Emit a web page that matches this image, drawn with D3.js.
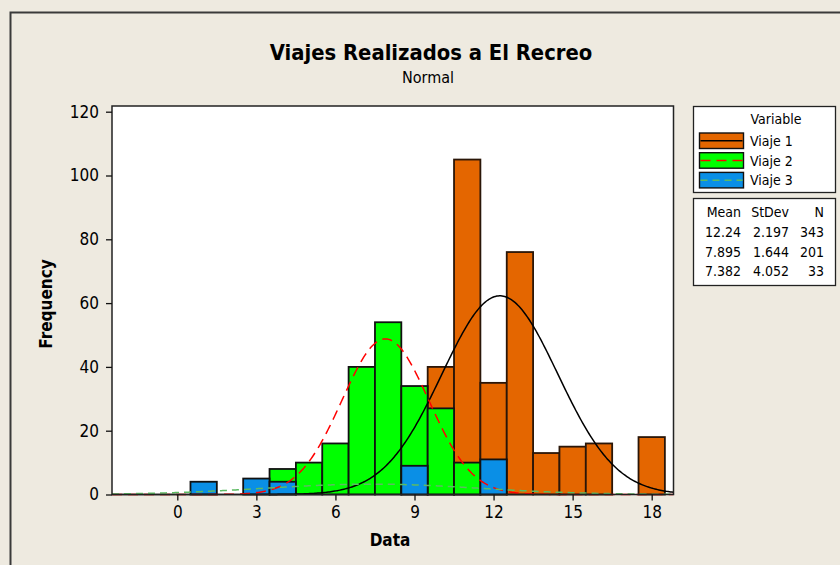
<!DOCTYPE html>
<html><head><meta charset="utf-8">
<script src="https://cdn.jsdelivr.net/npm/d3@7"></script>
<style>
body{margin:0;background:#EEEAE0;}
svg{display:block;font-family:'DejaVu Sans Condensed','DejaVu Sans',sans-serif;}
</style>
</head><body><svg id="c" width="840" height="565"></svg>
<script>
// ---- data ----
const binCenters = [1,2,3,4,5,6,7,8,9,10,11,12,13,14,15,16,17,18];
const viaje1 = [0,0,0,0,0,0,0,0,0,40,105,35,76,13,15,16,0,18];
const viaje2 = [0,0,0,8,10,16,40,54,34,27,10,0,0,0,0,0,0,0];
const viaje3 = [4,0,5,4,0,0,0,0,9,0,0,11,0,0,0,0,0,0];
const seriesNames = ["Viaje 1","Viaje 2","Viaje 3"];
const means = [12.24, 7.895, 7.382];
const stdevs = [2.197, 1.644, 4.052];
const counts = [343, 201, 33];
const meanLabels = ["12.24","7.895","7.382"];
const stdevLabels = ["2.197","1.644","4.052"];
const xTicks = [0,3,6,9,12,15,18];
const yTicks = [0,20,40,60,80,100,120];

const barColors = ["#E46600","#00FF00","#0A8FE6"];
const curveColors = ["#000000","#FF0000","#5DBB63"];
const curveDash = [null,"10,6","7,5"];

const svg = d3.select("#c");
const L=112, R=673.5, T=106, B=494.5;
const x = d3.scaleLinear().domain([0,18]).range([177.3,651.7]);
const xMin = x.invert(L), xMax = x.invert(R);
const y = d3.scaleLinear().domain([0,120]).range([B,111.7]);

// frame
svg.append("path").attr("d","M10.5,565 V12.5 H840").attr("fill","none").attr("stroke","#3a3a3a").attr("stroke-width",2);

// plot area
svg.append("rect").attr("x",L).attr("y",T).attr("width",R-L).attr("height",B-T).attr("fill","#fff");

const plot = svg.append("g");
const allSeries = [viaje1, viaje2, viaje3];
allSeries.forEach((vals,si)=>{
  const data = binCenters.map((c,i)=>({c, v:vals[i]})).filter(d=>d.v>0);
  plot.selectAll(null).data(data).enter().append("rect")
    .attr("x",d=>x(d.c-0.5)).attr("width",d=>x(d.c+0.5)-x(d.c-0.5))
    .attr("y",d=>y(d.v)).attr("height",d=>y(0)-y(d.v))
    .attr("fill",barColors[si]).attr("stroke",si===0?"#2a1608":"#111").attr("stroke-width",1.8);
});

// fitted normal curves
const xs = d3.range(xMin, xMax+0.001, 0.05);
const line = d3.line().x(d=>x(d[0])).y(d=>y(d[1]));
[0,1,2].forEach(si=>{
  const m=means[si], s=stdevs[si], n=counts[si];
  const pts = xs.map(v=>[v, n*Math.exp(-0.5*((v-m)/s)**2)/(s*Math.sqrt(2*Math.PI))]);
  svg.append("path").datum(pts).attr("d",line).attr("fill","none")
    .attr("stroke",curveColors[si]).attr("stroke-width",1.5)
    .attr("stroke-dasharray",curveDash[si]);
});

// plot border
svg.append("rect").attr("x",L).attr("y",T).attr("width",R-L).attr("height",B-T)
  .attr("fill","none").attr("stroke","#222").attr("stroke-width",1.5);

// axes
const xAxis = d3.axisBottom(x).tickValues(xTicks).tickSize(6).tickSizeOuter(0).tickPadding(5);
const gx = svg.append("g").attr("transform",`translate(0,${B})`).call(xAxis);
gx.select(".domain").remove();
gx.selectAll("line").attr("stroke","#111").attr("stroke-width",1.3);
gx.selectAll("text").attr("font-size",17).attr("fill","#000").attr("font-family","'DejaVu Sans Condensed','DejaVu Sans',sans-serif");

const yAxis = d3.axisLeft(y).tickValues(yTicks).tickSize(6).tickSizeOuter(0).tickPadding(7);
const gy = svg.append("g").attr("transform",`translate(${L},0)`).call(yAxis);
gy.select(".domain").remove();
gy.selectAll("line").attr("stroke","#111").attr("stroke-width",1.3);
gy.selectAll("text").attr("font-size",17).attr("fill","#000").attr("font-family","'DejaVu Sans Condensed','DejaVu Sans',sans-serif");

// titles
svg.append("text").attr("x",431).attr("y",60).attr("text-anchor","middle")
  .attr("font-size",21.8).attr("font-weight","bold").text("Viajes Realizados a El Recreo");
svg.append("text").attr("x",428).attr("y",83).attr("text-anchor","middle")
  .attr("font-size",16).text("Normal");
svg.append("text").attr("x",390).attr("y",546).attr("text-anchor","middle")
  .attr("font-size",17).attr("font-weight","bold").text("Data");
svg.append("text").attr("transform","translate(52,304) rotate(-90)").attr("text-anchor","middle")
  .attr("font-size",17).attr("font-weight","bold").text("Frequency");

// legend box 1
const lg = svg.append("g");
lg.append("rect").attr("x",693.5).attr("y",106.5).attr("width",142).attr("height",86)
  .attr("fill","#fff").attr("stroke","#222").attr("stroke-width",1.3);
lg.append("text").attr("x",776).attr("y",124).attr("text-anchor","middle").attr("font-size",14).text("Variable");
seriesNames.forEach((nm,i)=>{
  const yy = 133 + i*19.7;
  lg.append("rect").attr("x",699.5).attr("y",yy).attr("width",44).attr("height",15.5)
    .attr("fill",barColors[i]).attr("stroke","#111").attr("stroke-width",1.4);
  lg.append("line").attr("x1",700.5).attr("x2",742.5).attr("y1",yy+7.75).attr("y2",yy+7.75)
    .attr("stroke",curveColors[i]).attr("stroke-width",1.5).attr("stroke-dasharray",curveDash[i]);
  lg.append("text").attr("x",750).attr("y",yy+13).attr("font-size",14).text(nm);
});

// legend box 2
lg.append("rect").attr("x",693.5).attr("y",198.5).attr("width",142).attr("height",87)
  .attr("fill","#fff").attr("stroke","#222").attr("stroke-width",1.3);
const cols = [741, 789, 824];
["Mean","StDev","N"].forEach((h,j)=>{
  lg.append("text").attr("x",cols[j]).attr("y",216.5).attr("text-anchor","end").attr("font-size",14).text(h);
});
[0,1,2].forEach(i=>{
  const yy = 237 + i*19.6;
  [meanLabels[i], stdevLabels[i], String(counts[i])].forEach((t,j)=>{
    lg.append("text").attr("x",cols[j]).attr("y",yy).attr("text-anchor","end").attr("font-size",14).text(t);
  });
});
</script></body></html>
